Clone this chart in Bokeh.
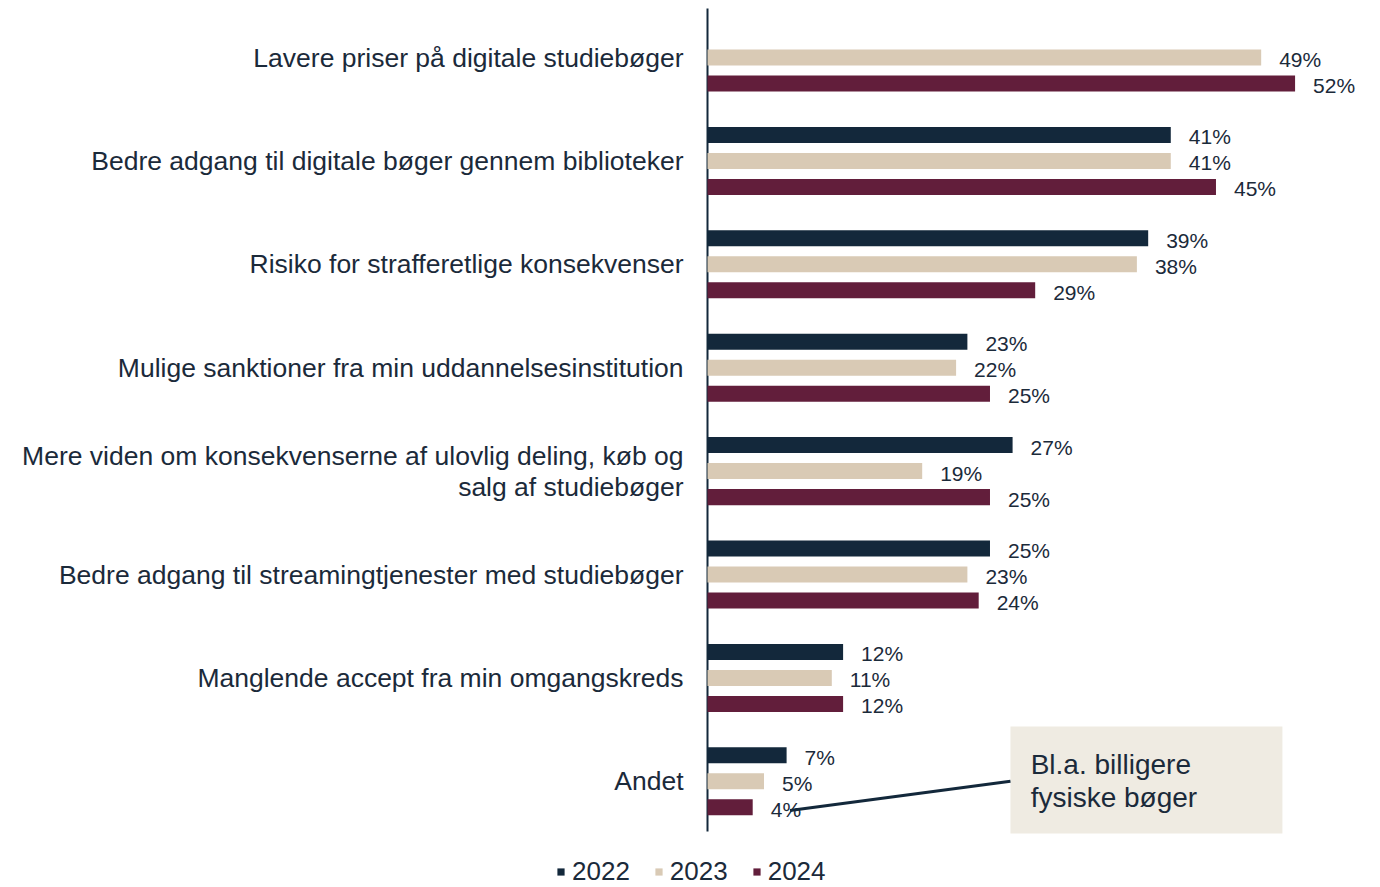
from bokeh.plotting import figure
from bokeh.models import (Range1d, FixedTicker, Legend, LegendItem, ColumnDataSource)
from bokeh.core.properties import value
from bokeh.embed import file_html
from bokeh.resources import INLINE

categories = [
    "Lavere priser på digitale studiebøger",
    "Bedre adgang til digitale bøger gennem biblioteker",
    "Risiko for strafferetlige konsekvenser",
    "Mulige sanktioner fra min uddannelsesinstitution",
    "Mere viden om konsekvenserne af ulovlig deling, køb og\nsalg af studiebøger",
    "Bedre adgang til streamingtjenester med studiebøger",
    "Manglende accept fra min omgangskreds",
    "Andet",
]
years = ["2022", "2023", "2024"]
v2022 = [None, 41, 39, 23, 27, 25, 12, 7]
v2023 = [49, 41, 38, 22, 19, 23, 11, 5]
v2024 = [52, 45, 29, 25, 25, 24, 12, 4]
note_text = "Bl.a. billigere\nfysiske bøger"
note_category = 7   # "Andet", 2024 bar

colors = ["#13283B", "#D9CAB5", "#621E3B"]
text_color = "#1B2A3A"
FONT = "Liberation Sans"

# frame covers the whole canvas; the category axis sits at x = 0
p = figure(width=1380, height=887, output_backend="svg", toolbar_location=None,
           x_range=Range1d(-62.57, 59.56), y_range=Range1d(8.027, -0.5513),
           min_border_left=0, min_border_right=0, min_border_top=0,
           min_border_bottom=0)
p.outline_line_color = None
p.xgrid.visible = False
p.ygrid.visible = False
p.xaxis.visible = False

yax = p.yaxis[0]
yax.fixed_location = 0
yax.ticker = FixedTicker(ticks=list(range(len(categories))))
yax.major_label_overrides = {i: c for i, c in enumerate(categories)}
yax.major_tick_line_color = None
yax.minor_tick_line_color = None
yax.major_tick_out = 0
yax.major_tick_in = 0
yax.minor_tick_out = 0
yax.major_label_standoff = 24
yax.axis_line_color = None
yax.major_label_text_font = FONT
yax.major_label_text_font_size = "26.5px"
yax.major_label_text_line_height = 1.03
yax.major_label_text_color = text_color

# visible axis rule spanning the bar area
p.segment(x0=[0], y0=[-0.474], x1=[0], y1=[7.486], line_color="#13283B", line_width=2)

offsets = [-0.2515, 0.0, 0.2515]
series = [v2022, v2023, v2024]
renderers = []
for vals, off, col in zip(series, offsets, colors):
    ys, xs, labels = [], [], []
    for i, v in enumerate(vals):
        if v is None:
            continue
        ys.append(i + off)
        xs.append(v)
        labels.append(f"{v}%")
    src = ColumnDataSource(dict(y=ys, x=xs, label=labels))
    r = p.hbar(y="y", left=0, right="x", height=0.155, source=src,
               fill_color=col, line_color=None)
    renderers.append(r)
    p.text(x="x", y="y", text="label", source=src, x_offset=18, y_offset=2,
           text_baseline="middle", text_align="left",
           text_font=value(FONT), text_font_size="21px", text_color=text_color)

# annotation box
box_left, box_right = 26.81, 50.88
p.quad(left=[box_left], right=[box_right], top=[6.47], bottom=[7.505],
       fill_color="#EFEBE2", line_color=None)
p.text(x=[28.6], y=[7.0], text=[note_text], text_baseline="middle",
       text_align="left", text_line_height=1.07,
       text_font=value(FONT), text_font_size="28px", text_color=text_color)
p.segment(x0=[box_left], y0=[note_category], x1=[7.3],
          y1=[note_category + 0.282], line_color="#13283B", line_width=3)

legend = Legend(items=[LegendItem(label=y, renderers=[r]) for y, r in zip(years, renderers)],
                orientation="horizontal", location=(556, 0),
                glyph_width=9, glyph_height=9, label_standoff=7, spacing=24,
                padding=0, margin=0, border_line_color=None,
                background_fill_alpha=0,
                label_text_font=FONT, label_text_font_size="26px",
                label_text_color=text_color)
p.add_layout(legend, "center")

open("out.html", "w").write(file_html(p, INLINE))
